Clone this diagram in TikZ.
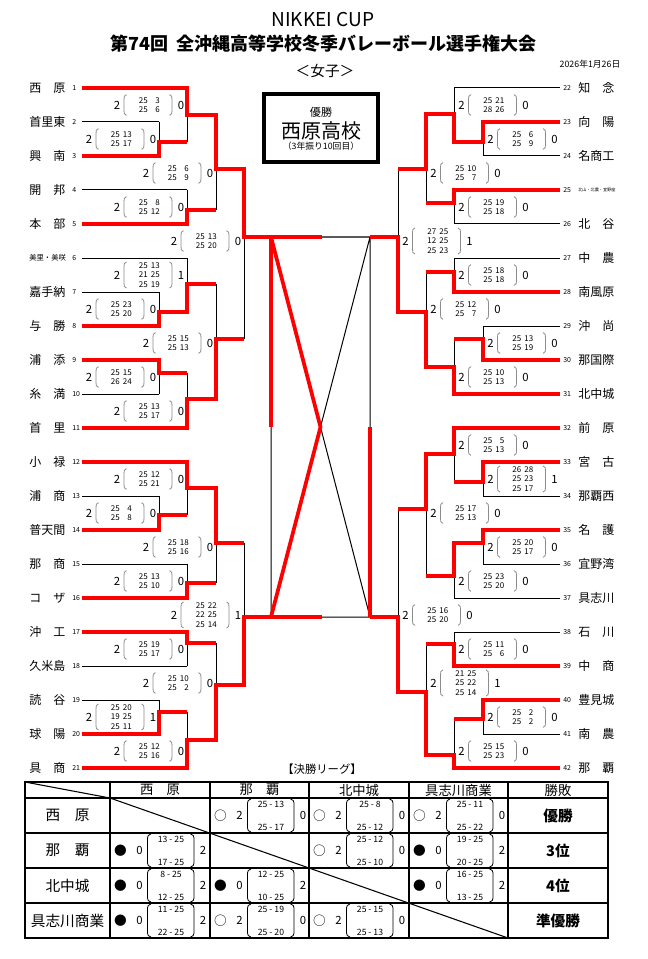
\documentclass[tikz,border=0pt]{standalone}
\usepackage{fontspec}
\setmainfont{Noto Sans CJK JP}
\tikzset{
  blk/.style={line width=0.75pt},
  win/.style={red, line width=2.8pt, line join=miter},
  team/.style={anchor=west, inner sep=0pt, font=\fontsize{9}{9}\selectfont},
  tno/.style={anchor=west, inner sep=0pt, font=\fontsize{5.2}{5.2}\selectfont},
  pt/.style={anchor=east, inner sep=0pt, font=\fontsize{6}{6}\selectfont},
  sets/.style={inner sep=0pt, font=\fontsize{8.5}{8.5}\selectfont},
  paren/.style={black!45, line width=0.6pt},
  tparen/.style={line width=0.6pt},
  tpt/.style={inner sep=0pt, font=\fontsize{6.5}{6.5}\selectfont},
  tset/.style={inner sep=0pt, font=\fontsize{8.5}{8.5}\selectfont},
  mk/.style={inner sep=0pt, font=\fontsize{9.5}{9.5}\selectfont},
}
% bracket score: name, x of winner sets, y, number of sets, list of points, loser sets
\newcommand{\bscore}[6]{%
  \pgfmathsetmacro\hh{5+2.7*#4}
  \node[sets] (#1w) at (#2,#3) {2};
  \node[sets] (#1l) at ({#2+64},#3) {#6};
  \foreach \a/\b [count=\k] in {#5}{
    \node[pt] (#1a\k) at ({#2+31},{#3+(\k-(#4+1)/2)*9.5}) {\a};
    \node[pt] (#1b\k) at ({#2+43},{#3+(\k-(#4+1)/2)*9.5}) {\b};
  }
  \draw[paren] ({#2+9.5},{#3-\hh}) .. controls ({#2+7},{#3-\hh+1}) and ({#2+7},{#3-\hh+2}) .. ({#2+7},{#3-\hh+5}) -- ({#2+7},{#3+\hh-5}) .. controls ({#2+7},{#3+\hh-2}) and ({#2+7},{#3+\hh-1}) .. ({#2+9.5},{#3+\hh});
  \draw[paren] ({#2+52.5},{#3-\hh}) .. controls ({#2+55},{#3-\hh+1}) and ({#2+55},{#3-\hh+2}) .. ({#2+55},{#3-\hh+5}) -- ({#2+55},{#3+\hh-5}) .. controls ({#2+55},{#3+\hh-2}) and ({#2+55},{#3+\hh-1}) .. ({#2+52.5},{#3+\hh});
}
% league cell: name, x left, y top, mark, left sets, first set, second set, right sets
\newcommand{\tcell}[8]{%
  \node[mk] (#1m) at ({#2+10.5},{#3+17.5}) {#4};
  \node[tset] (#1w) at ({#2+29.5},{#3+17.5}) {#5};
  \node[tpt] (#1a) at ({#2+61},{#3+6}) {#6};
  \node[tpt] (#1b) at ({#2+61},{#3+29.5}) {#7};
  \node[tset] (#1l) at ({#2+93},{#3+17.5}) {#8};
  \draw[tparen] ({#2+41},{#3+1}) .. controls ({#2+38.5},{#3+1.5}) and ({#2+37.5},{#3+3}) .. ({#2+37.5},{#3+5}) -- ({#2+37.5},{#3+30}) .. controls ({#2+37.5},{#3+32}) and ({#2+38.5},{#3+33.5}) .. ({#2+41},{#3+34});
  \draw[tparen] ({#2+80.5},{#3+1}) .. controls ({#2+83},{#3+1.5}) and ({#2+84},{#3+3}) .. ({#2+84},{#3+5}) -- ({#2+84},{#3+30}) .. controls ({#2+84},{#3+32}) and ({#2+83},{#3+33.5}) .. ({#2+80.5},{#3+34});
}
\begin{document}
\begin{tikzpicture}[x=0.75pt,y=0.75pt,yscale=-1]
\useasboundingbox (0,0) rectangle (647,959);

% Titles
\node[font=\fontsize{14.3}{14.3}\selectfont] (cup) at (323,19.5) {NIKKEI CUP};
\node[font=\bfseries\fontsize{13.5}{13.5}\selectfont] (title) at (324,43.5) {第74回\hspace{0.45em}全沖縄高等学校冬季バレーボール選手権大会};
\node[font=\fontsize{6.6}{6.6}\selectfont] (date) at (590,64) {2026年1月26日};
\node[font=\fontsize{11}{11}\selectfont] (girls) at (325,71) {＜女子＞};

% Champion
\draw[line width=2.4pt] (264,94) rectangle (378,162);
\node[font=\fontsize{8.3}{8.3}\selectfont] (yusho) at (321,112.5) {優勝};
\node[font=\fontsize{15}{15}\selectfont] (champ) at (321,131) {西原高校};
\node[font=\fontsize{6.6}{6.6}\selectfont] (champnote) at (321,146.5) {（3年振り10回目）};

% Teams left
\foreach \n/\t in {1/西　原,2/首里東,3/興　南,4/開　邦,5/本　部,7/嘉手納,8/与　勝,9/浦　添,10/糸　満,11/首　里,12/小　禄,13/浦　商,14/普天間,15/那　商,16/コ　ザ,17/沖　工,18/久米島,19/読　谷,20/球　陽,21/具　商}
  \node[team] (L\n) at (29,{88+34*(\n-1)}) {\t};
\node[team, font=\fontsize{5.5}{5.5}\selectfont] (L6) at (29,258) {美里・美咲};
\foreach \n in {1,...,21}
  \node[tno] (Ln\n) at (72,{88+34*(\n-1)}) {\n};

% Teams right
\foreach \n/\t in {22/知　念,23/向　陽,24/名商工,26/北　谷,27/中　農,28/南風原,29/沖　尚,30/那国際,31/北中城,32/前　原,33/宮　古,34/那覇西,35/名　護,36/宜野湾,37/具志川,38/石　川,39/中　商,40/豊見城,41/南　農,42/那　覇}
  \node[team] (R\n) at (578,{88+34*(\n-22)}) {\t};
\node[team, font=\fontsize{3.1}{3.1}\selectfont] (R25) at (578,190) {北山・北農・宜野座};
\foreach \n in {22,...,42}
  \node[tno] (Rn\n) at (563,{88+34*(\n-22)}) {\n};

% Bracket lines, black
\foreach \n/\v in {1/187,2/159,3/159,4/187,5/187,6/187,7/159,8/159,9/159,10/159,11/187,12/187,13/159,14/159,15/187,16/187,17/187,18/187,19/159,20/159,21/187}
  \draw[blk] (82,{88+34*(\n-1)}) -- (\v,{88+34*(\n-1)});
\foreach \n/\v in {22/454,23/483,24/483,25/454,26/454,27/454,28/454,29/483,30/483,31/454,32/454,33/483,34/483,35/483,36/483,37/454,38/454,39/454,40/483,41/483,42/454}
  \draw[blk] (\v,{88+34*(\n-22)}) -- (560,{88+34*(\n-22)});
\foreach \x/\ya/\yb in {159/122/156,159/292/326,159/360/394,159/496/530,159/700/734,
  187/88/142,187/190/224,187/258/312,187/373/428,187/462/515,187/564/598,187/632/666,187/712/768,
  216/115/210,216/284/399,216/488/583,216/643/740,244/169/339,244/543/685,
  483/122/156,483/326/360,483/462/496,483/530/564,483/700/734,
  454/88/142,454/190/224,454/258/292,454/339/394,454/428/482,454/543/598,454/632/666,454/719/768,
  426/114/203,426/272/367,426/454/576,426/644/755,398/169/312,398/509/692}
  \draw[blk] (\x,\ya) -- (\x,\yb);

% Centre
\draw[blk] (244,237) -- (398,237) (244,617) -- (398,617) (271,237) -- (271,617) (370,237) -- (370,617) (271,237) -- (370,617) (370,237) -- (271,617);
\draw[win] (271,237) -- (271,427) (370,427) -- (370,617);
\draw[win] (271,237) -- (320.5,427) -- (271,617);

% Winners, left
\draw[win] (82,88) -- (187,88) -- (187,115) -- (216,115) -- (216,169) -- (244,169) -- (244,237) -- (322,237);
\draw[win] (82,156) -- (159,156) -- (159,142) -- (187,142);
\draw[win] (82,224) -- (187,224) -- (187,210) -- (216,210);
\draw[win] (82,326) -- (159,326) -- (159,312) -- (187,312) -- (187,284) -- (216,284);
\draw[win] (82,360) -- (159,360) -- (159,373) -- (187,373);
\draw[win] (82,428) -- (187,428) -- (187,399) -- (216,399) -- (216,339) -- (244,339);
\draw[win] (82,462) -- (187,462) -- (187,488) -- (216,488) -- (216,543) -- (244,543);
\draw[win] (82,530) -- (159,530) -- (159,515) -- (187,515);
\draw[win] (82,598) -- (187,598) -- (187,583) -- (216,583);
\draw[win] (82,632) -- (187,632) -- (187,643) -- (216,643);
\draw[win] (82,734) -- (159,734) -- (159,712) -- (187,712);
\draw[win] (82,768) -- (187,768) -- (187,740) -- (216,740) -- (216,685) -- (244,685) -- (244,617) -- (322,617);

% Winners, right
\draw[win] (560,122) -- (483,122) -- (483,142) -- (454,142) -- (454,114) -- (426,114) -- (426,169) -- (398,169);
\draw[win] (560,190) -- (454,190) -- (454,203) -- (426,203);
\draw[win] (560,292) -- (454,292) -- (454,272) -- (426,272);
\draw[win] (560,360) -- (483,360) -- (483,339) -- (454,339);
\draw[win] (560,394) -- (454,394) -- (454,367) -- (426,367) -- (426,312) -- (398,312) -- (398,237) -- (370,237);
\draw[win] (560,428) -- (454,428) -- (454,454) -- (426,454) -- (426,509) -- (398,509);
\draw[win] (560,462) -- (483,462) -- (483,482) -- (454,482);
\draw[win] (560,530) -- (483,530) -- (483,543) -- (454,543) -- (454,576) -- (426,576);
\draw[win] (560,666) -- (454,666) -- (454,644) -- (426,644);
\draw[win] (560,700) -- (483,700) -- (483,719) -- (454,719);
\draw[win] (560,768) -- (454,768) -- (454,755) -- (426,755) -- (426,692) -- (398,692) -- (398,617) -- (370,617);

% Scores, left
\bscore{la}{117}{105}{2}{25/3,25/6}{0}
\bscore{lb}{89}{139}{2}{25/13,25/17}{0}
\bscore{lc}{146}{173}{2}{25/6,25/9}{0}
\bscore{ld}{117}{207}{2}{25/8,25/12}{0}
\bscore{le}{174}{241}{2}{25/13,25/20}{0}
\bscore{lf}{117}{275}{3}{25/13,21/25,25/19}{1}
\bscore{lg}{89}{309}{2}{25/23,25/20}{0}
\bscore{lh}{146}{343}{2}{25/15,25/13}{0}
\bscore{li}{89}{377}{2}{25/15,26/24}{0}
\bscore{lj}{117}{411}{2}{25/13,25/17}{0}
\bscore{lk}{117}{479}{2}{25/12,25/21}{0}
\bscore{ll}{89}{513}{2}{25/4,25/8}{0}
\bscore{lm}{146}{547}{2}{25/18,25/16}{0}
\bscore{ln}{117}{581}{2}{25/13,25/10}{0}
\bscore{lo}{174}{615}{3}{25/22,22/25,25/14}{1}
\bscore{lp}{117}{649}{2}{25/19,25/17}{0}
\bscore{lq}{146}{683}{2}{25/10,25/2}{0}
\bscore{lr}{89}{717}{3}{25/20,19/25,25/11}{1}
\bscore{ls}{117}{751}{2}{25/12,25/16}{0}

% Scores, right
\bscore{ra}{461.5}{105}{2}{25/21,28/26}{0}
\bscore{rb}{490.5}{139}{2}{25/6,25/9}{0}
\bscore{rc}{433.5}{173}{2}{25/10,25/7}{0}
\bscore{rd}{461.5}{207}{2}{25/19,25/18}{0}
\bscore{re}{405.5}{241}{3}{27/25,12/25,25/23}{1}
\bscore{rf}{461.5}{275}{2}{25/18,25/18}{0}
\bscore{rg}{433.5}{309}{2}{25/12,25/7}{0}
\bscore{rh}{490.5}{343}{2}{25/13,25/19}{0}
\bscore{ri}{461.5}{377}{2}{25/10,25/13}{0}
\bscore{rj}{461.5}{445}{2}{25/5,25/13}{0}
\bscore{rk}{490.5}{479}{3}{26/28,25/23,25/17}{1}
\bscore{rl}{433.5}{513}{2}{25/17,25/13}{0}
\bscore{rm}{490.5}{547}{2}{25/20,25/17}{0}
\bscore{rn}{461.5}{581}{2}{25/23,25/20}{0}
\bscore{ro}{405.5}{615}{2}{25/16,25/20}{0}
\bscore{rp}{461.5}{649}{2}{25/11,25/6}{0}
\bscore{rq}{433.5}{683}{3}{21/25,25/22,25/14}{1}
\bscore{rr}{490.5}{717}{2}{25/2,25/2}{0}
\bscore{rs}{461.5}{751}{2}{25/15,25/23}{0}

% Final league
\node[font=\fontsize{8.5}{8.5}\selectfont] (league) at (322,769) {【決勝リーグ】};
\draw[line width=0.8pt] (110,782) -- (110,938) (210,782) -- (210,938) (309,782) -- (309,938) (409,782) -- (409,938) (508,782) -- (508,938)
  (25,798) -- (608,798) (25,833) -- (608,833) (25,868) -- (608,868) (25,903) -- (608,903);
\draw[line width=0.8pt] (25,782) -- (110,798) -- (508,938);
\draw[line width=1.3pt] (25,782) rectangle (608,938);
\foreach \x/\t [count=\i] in {160/西　原,259.5/那　覇,359/北中城,458.5/具志川商業,558/勝敗}
  \node[font=\fontsize{10}{10}\selectfont] (h\i) at (\x,790) {\t};
\foreach \y/\t [count=\i] in {815.5/西　原,850.5/那　覇,885.5/北中城,920.5/具志川商業}
  \node[font=\fontsize{11}{11}\selectfont] (r\i) at (67.5,\y) {\t};
\foreach \y/\t [count=\i] in {815.5/優勝,850.5/3位,885.5/4位,920.5/準優勝}
  \node[font=\bfseries\fontsize{11}{11}\selectfont] (res\i) at (558,\y) {\t};
\tcell{c12}{210}{798}{○}{2}{25 - 13}{25 - 17}{0}
\tcell{c13}{309}{798}{○}{2}{25 - 8}{25 - 12}{0}
\tcell{c14}{409}{798}{○}{2}{25 - 11}{25 - 22}{0}
\tcell{c21}{110}{833}{●}{0}{13 - 25}{17 - 25}{2}
\tcell{c23}{309}{833}{○}{2}{25 - 12}{25 - 10}{0}
\tcell{c24}{409}{833}{●}{0}{19 - 25}{20 - 25}{2}
\tcell{c31}{110}{868}{●}{0}{8 - 25}{12 - 25}{2}
\tcell{c32}{210}{868}{●}{0}{12 - 25}{10 - 25}{2}
\tcell{c34}{409}{868}{●}{0}{16 - 25}{13 - 25}{2}
\tcell{c41}{110}{903}{●}{0}{11 - 25}{22 - 25}{2}
\tcell{c42}{210}{903}{○}{2}{25 - 19}{25 - 20}{0}
\tcell{c43}{309}{903}{○}{2}{25 - 15}{25 - 13}{0}

\end{tikzpicture}
\end{document}
